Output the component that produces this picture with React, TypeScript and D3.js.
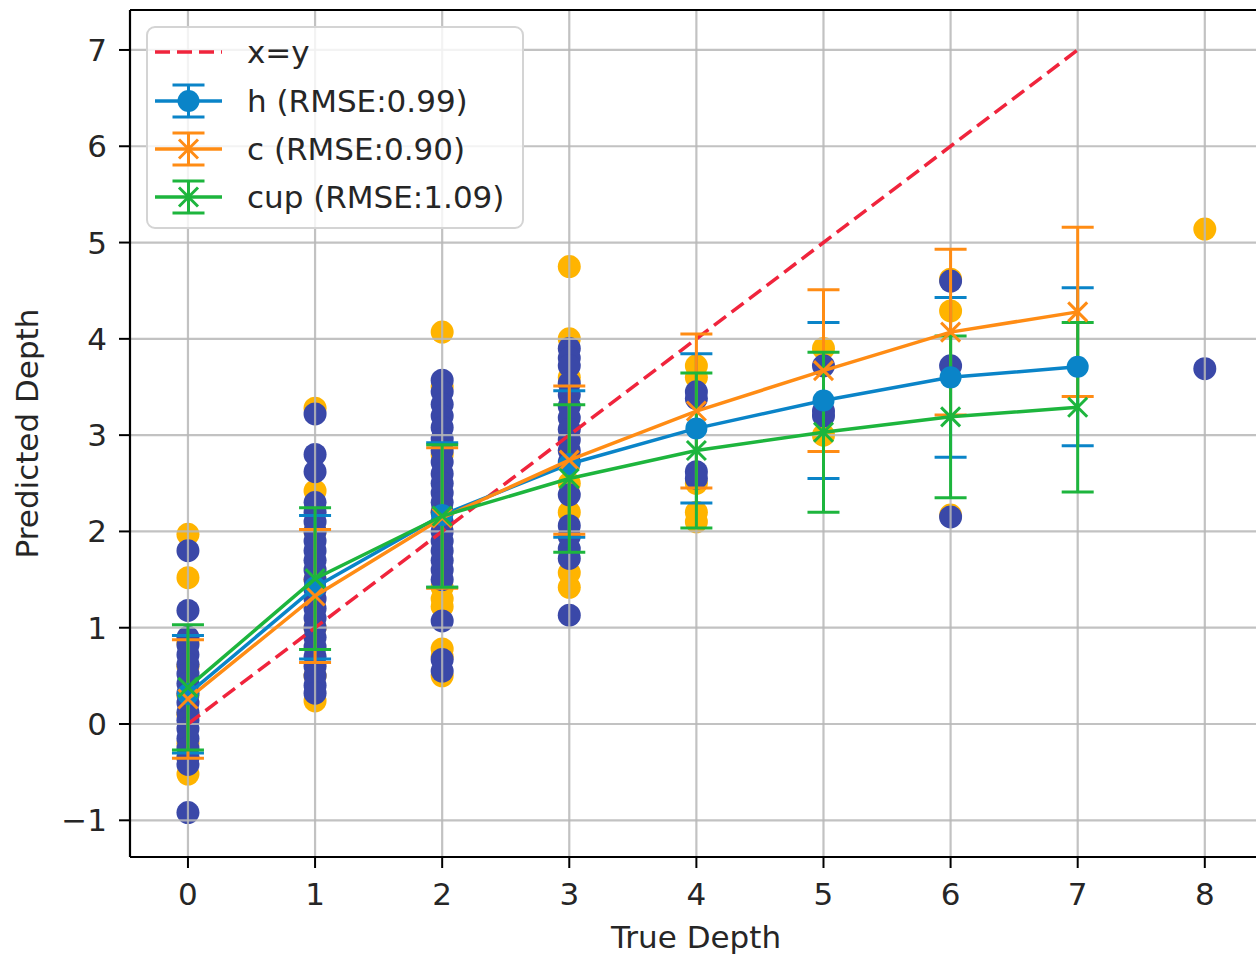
import React from "react";
import * as d3 from "d3";

const W = 1256;
const H = 954;

const xTicks = [0, 1, 2, 3, 4, 5, 6, 7, 8];
const yTicks = [-1, 0, 1, 2, 3, 4, 5, 6, 7];
const xTickLabels = ["0", "1", "2", "3", "4", "5", "6", "7", "8"];
const yTickLabels = ["\u22121", "0", "1", "2", "3", "4", "5", "6", "7"];

const identityLine = [0, 7];

const depths = [0, 1, 2, 3, 4, 5, 6, 7];
const hMean = [0.31, 1.42, 2.17, 2.7, 3.07, 3.36, 3.6, 3.71];
const hStd = [0.61, 0.745, 0.75, 0.76, 0.775, 0.81, 0.83, 0.82];
const cMean = [0.26, 1.33, 2.14, 2.74, 3.25, 3.67, 4.07, 4.28];
const cStd = [0.615, 0.69, 0.73, 0.77, 0.8, 0.84, 0.86, 0.88];
const cupMean = [0.38, 1.51, 2.16, 2.55, 2.84, 3.03, 3.19, 3.29];
const cupStd = [0.65, 0.735, 0.74, 0.765, 0.805, 0.83, 0.84, 0.88];

const seriesNames = ["h (RMSE:0.99)", "c (RMSE:0.90)", "cup (RMSE:1.09)"];
const seriesColors = ["#0a84c8", "#ff8c14", "#1db53d"];
const seriesMarkers = ["circle", "x", "x"];

const scatterDepths = [0, 1, 2, 3, 4, 5, 6, 8];
const amberPoints = [
  [1.97, 1.52, 0.85, 0.6, 0.3, 0.1, -0.2, -0.35, -0.52],
  [3.28, 2.42, 2.0, 1.5, 1.0, 0.5, 0.24],
  [4.07, 3.5, 2.8, 2.2, 1.42, 1.3, 1.22, 0.78, 0.7, 0.5],
  [4.75, 4.0, 3.6, 2.5, 2.2, 1.57, 1.42],
  [3.72, 3.6, 2.5, 2.2, 2.1],
  [3.9, 3.0],
  [4.62, 4.29, 2.17],
  [5.14],
];
const indigoPoints = [
  [1.8, 1.18, 0.9, 0.82, 0.72, 0.62, 0.52, 0.42, 0.32, 0.22, 0.12, 0.04, -0.05, -0.15, -0.25, -0.35, -0.42, -0.92],
  [3.22, 2.8, 2.62, 2.3, 2.2, 2.1, 2.0, 1.9, 1.8, 1.7, 1.6, 1.5, 1.4, 1.3, 1.2, 1.1, 1.0, 0.9, 0.8, 0.7, 0.6, 0.5, 0.4, 0.32],
  [3.57, 3.45, 3.32, 3.2, 3.08, 2.96, 2.84, 2.72, 2.6, 2.5, 2.4, 2.3, 2.2, 2.1, 2.0, 1.9, 1.8, 1.7, 1.6, 1.5, 1.07, 0.67, 0.55],
  [3.9, 3.8, 3.72, 3.54, 3.42, 3.3, 3.18, 3.06, 2.95, 2.84, 2.72, 2.38, 2.06, 1.95, 1.82, 1.72, 1.13],
  [3.45, 3.38, 2.62, 2.55],
  [3.72, 3.25, 3.2],
  [4.6, 3.72, 2.15],
  [3.69],
];

const FONT = "'DejaVu Sans', sans-serif";
const FS = 31;
const TEXT = "#262626";
const AMBER = "#ffb400";
const INDIGO = "#3a48a8";
const RED = "#f0243c";
const GRID = "#b8b8b8";

const left = 130;
const top = 10;
const bottom = 857;
const right = 1262;

export default function App() {
  const x = d3.scaleLinear().domain([-0.456, 8.45]).range([left, right]);
  const y = d3.scaleLinear().domain([-1.381, 7.415]).range([bottom, top]);

  const means = [hMean, cMean, cupMean];
  const stds = [hStd, cStd, cupStd];
  const line = d3
    .line<[number, number]>()
    .x((d) => x(d[0]))
    .y((d) => y(d[1]));

  const cap = 16;

  const marker = (kind: string, cx: number, cy: number, color: string, key: string) =>
    kind === "circle" ? (
      <circle key={key} cx={cx} cy={cy} r={11} fill={color} />
    ) : (
      <g key={key} stroke={color} strokeWidth={3}>
        <line x1={cx - 9.5} y1={cy - 9.5} x2={cx + 9.5} y2={cy + 9.5} />
        <line x1={cx - 9.5} y1={cy + 9.5} x2={cx + 9.5} y2={cy - 9.5} />
      </g>
    );

  const legendRows = [52, 101, 149, 197];

  return (
    <svg
      width={W}
      height={H}
      style={{ position: "absolute", left: 0, top: 0, background: "#fff" }}
      fontFamily={FONT}
    >
      <defs>
        <clipPath id="plot">
          <rect x={left} y={top} width={right - left} height={bottom - top} />
        </clipPath>
      </defs>
      <rect x={0} y={0} width={W} height={H} fill="#fff" />
      <g clipPath="url(#plot)">
        {scatterDepths.map((d, i) =>
          amberPoints[i].map((v, j) => (
            <circle key={`a${i}-${j}`} cx={x(d)} cy={y(v)} r={11.5} fill={AMBER} />
          ))
        )}
        {scatterDepths.map((d, i) =>
          indigoPoints[i].map((v, j) => (
            <circle key={`b${i}-${j}`} cx={x(d)} cy={y(v)} r={11.5} fill={INDIGO} />
          ))
        )}
        {xTicks.map((t) => (
          <line key={`gx${t}`} x1={x(t)} x2={x(t)} y1={top} y2={bottom} stroke={GRID} strokeWidth={2.2} opacity={0.85} />
        ))}
        {yTicks.map((t) => (
          <line key={`gy${t}`} x1={left} x2={right} y1={y(t)} y2={y(t)} stroke={GRID} strokeWidth={2.2} opacity={0.85} />
        ))}
        <line
          x1={x(identityLine[0])}
          y1={y(identityLine[0])}
          x2={x(identityLine[1])}
          y2={y(identityLine[1])}
          stroke={RED}
          strokeWidth={3.5}
          strokeDasharray="15 7"
        />
        {means.map((m, s) => (
          <g key={`eb${s}`} stroke={seriesColors[s]} strokeWidth={3}>
            {depths.map((d, i) => {
              const cx = x(d);
              const hi = y(m[i] + stds[s][i]);
              const lo = y(m[i] - stds[s][i]);
              return (
                <g key={i}>
                  <line x1={cx} x2={cx} y1={hi} y2={lo} />
                  <line x1={cx - cap} x2={cx + cap} y1={hi} y2={hi} />
                  <line x1={cx - cap} x2={cx + cap} y1={lo} y2={lo} />
                </g>
              );
            })}
          </g>
        ))}
        {means.map((m, s) => (
          <g key={`dl${s}`}>
            <path
              d={line(depths.map((d, i) => [d, m[i]] as [number, number])) || ""}
              fill="none"
              stroke={seriesColors[s]}
              strokeWidth={3.5}
            />
            {depths.map((d, i) => marker(seriesMarkers[s], x(d), y(m[i]), seriesColors[s], `m${s}-${i}`))}
          </g>
        ))}
      </g>
      <line x1={left} x2={left} y1={top} y2={bottom} stroke="#000" strokeWidth={2.2} />
      <line x1={left} x2={W} y1={bottom} y2={bottom} stroke="#000" strokeWidth={2.2} />
      <line x1={left} x2={W} y1={top} y2={top} stroke="#000" strokeWidth={2.2} />
      {xTicks.map((t, i) => (
        <g key={`tx${t}`}>
          <line x1={x(t)} x2={x(t)} y1={bottom} y2={bottom + 11} stroke="#000" strokeWidth={2} />
          <text x={x(t)} y={905} textAnchor="middle" fontSize={FS} fill={TEXT}>
            {xTickLabels[i]}
          </text>
        </g>
      ))}
      {yTicks.map((t, i) => (
        <g key={`ty${t}`}>
          <line x1={left - 11} x2={left} y1={y(t)} y2={y(t)} stroke="#000" strokeWidth={2} />
          <text x={107} y={y(t) + 11} textAnchor="end" fontSize={FS} fill={TEXT}>
            {yTickLabels[i]}
          </text>
        </g>
      ))}
      <text x={(left + right) / 2} y={948} textAnchor="middle" fontSize={FS} fill={TEXT}>
        True Depth
      </text>
      <text
        transform={`translate(38, ${(top + bottom) / 2}) rotate(-90)`}
        textAnchor="middle"
        fontSize={FS}
        fill={TEXT}
      >
        Predicted Depth
      </text>
      <g>
        <rect x={147} y={27} width={376} height={201} rx={8} ry={8} fill="#fff" fillOpacity={0.8} stroke="#d4d4d4" strokeWidth={2} />
        <line x1={155} x2={222} y1={legendRows[0]} y2={legendRows[0]} stroke={RED} strokeWidth={3.5} strokeDasharray="15 7" />
        <text x={247} y={legendRows[0] + 11} fontSize={FS} fill={TEXT}>
          x=y
        </text>
        {seriesNames.map((name, s) => {
          const cy = legendRows[s + 1];
          const cx = 188.5;
          return (
            <g key={`lg${s}`}>
              <g stroke={seriesColors[s]} strokeWidth={3}>
                <line x1={cx} x2={cx} y1={cy - 16} y2={cy + 16} />
                <line x1={cx - cap} x2={cx + cap} y1={cy - 16} y2={cy - 16} />
                <line x1={cx - cap} x2={cx + cap} y1={cy + 16} y2={cy + 16} />
              </g>
              <line x1={155} x2={222} y1={cy} y2={cy} stroke={seriesColors[s]} strokeWidth={3.5} />
              {marker(seriesMarkers[s], cx, cy, seriesColors[s], `lm${s}`)}
              <text x={247} y={cy + 11} fontSize={FS} fill={TEXT}>
                {name}
              </text>
            </g>
          );
        })}
      </g>
    </svg>
  );
}
